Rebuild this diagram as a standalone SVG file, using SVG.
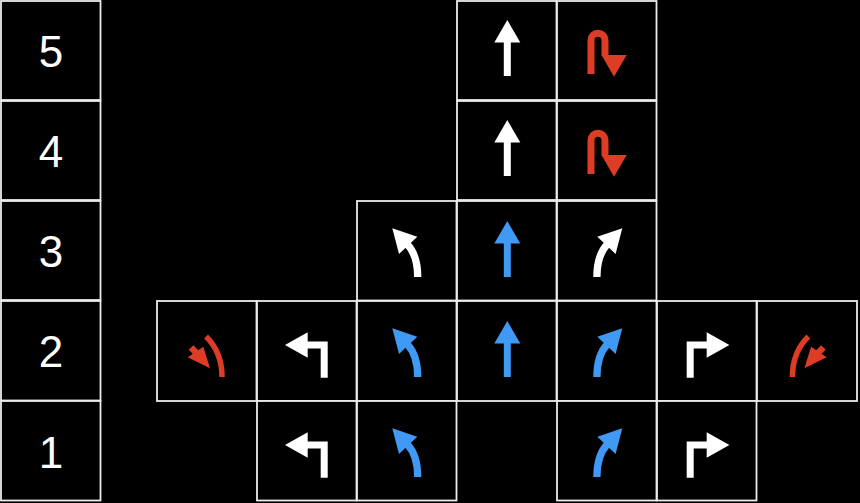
<svg xmlns="http://www.w3.org/2000/svg" width="860" height="503" viewBox="0 0 860 503">
<style>
.cell{fill:#000;stroke:#ececec;stroke-width:1.8}
.num{font-family:"Liberation Sans",Arial,sans-serif;font-size:44px;fill:#fff;text-anchor:middle}
.w{color:#fff}.b{color:#4099f3}.r{color:#dd3d25}
.hd{fill:currentColor;stroke:none}
.sh{stroke:currentColor;fill:none}
</style>
<defs>
<g id="straight"><polygon class="hd" points="50.3,20 63.3,42.5 53.8,42.5 53.8,76 46.8,76 46.8,42.5 37.3,42.5"/></g>
<g id="leftturn"><polygon class="hd" points="28,44 50.7,31.3 50.7,56.7"/><path class="sh" d="M50 44 H67.2 V76.7" stroke-width="7" stroke-linejoin="miter"/></g>
<g id="curveleft"><polygon class="hd" points="35.3,27.3 60.3,35.7 42,53"/><path class="sh" d="M60.7 76 C60.7 64 57.6 51.2 50.5 43.6" stroke-width="7.3"/></g>
<g id="merge"><path class="sh" d="M49 35.5 Q65 51 65 76" stroke-width="5.5"/><polygon class="hd" points="53,67.3 46.3,45.7 30.7,56.3"/><path class="sh" d="M34 46.5 L39.5 52" stroke-width="6.5"/></g>
<g id="uturn"><path class="sh" d="M34 73 V39.2 A7 7 0 0 1 48 39.2 V55" stroke-width="7"/><polygon class="hd" points="44.5,54 69.7,54 57,75.7"/></g>
</defs>
<rect width="860" height="503" fill="#000"/>
<g id="labels">
<g id="row5"><rect class="cell" x="1" y="1" width="99.5" height="99"/><text class="num" x="51" y="66.5">5</text></g>
<g id="row4"><rect class="cell" x="1" y="101" width="99.5" height="99"/><text class="num" x="51" y="166.5">4</text></g>
<g id="row3"><rect class="cell" x="1" y="201" width="99.5" height="99"/><text class="num" x="51" y="266.5">3</text></g>
<g id="row2"><rect class="cell" x="1" y="301" width="99.5" height="99.5"/><text class="num" x="51" y="367">2</text></g>
<g id="row1"><rect class="cell" x="1" y="401" width="99.5" height="99.5"/><text class="num" x="51" y="468">1</text></g>
</g>
<g id="lanes">
<g id="r5c457"><rect class="cell" x="457" y="1" width="99.5" height="99"/><use href="#straight" x="457" y="0" class="w"/></g>
<g id="r5c557"><rect class="cell" x="557" y="1" width="99.5" height="99"/><use href="#uturn" x="557" y="1" class="r"/></g>
<g id="r4c457"><rect class="cell" x="457" y="101" width="99.5" height="99"/><use href="#straight" x="457" y="100" class="w"/></g>
<g id="r4c557"><rect class="cell" x="557" y="101" width="99.5" height="99"/><use href="#uturn" x="557" y="101" class="r"/></g>
<g id="r3c357"><rect class="cell" x="357" y="201" width="99.5" height="99.5"/><use href="#curveleft" x="357" y="201" class="w"/></g>
<g id="r3c457"><rect class="cell" x="457" y="201" width="99.5" height="99.5"/><use href="#straight" x="457" y="201" class="b"/></g>
<g id="r3c557"><rect class="cell" x="557" y="201" width="99.5" height="99.5"/><use href="#curveleft" transform="translate(657.6 201) scale(-1 1)" class="w"/></g>
<g id="r2c157"><rect class="cell" x="157" y="301" width="99.5" height="100"/><use href="#merge" x="157" y="301" class="r"/></g>
<g id="r2c257"><rect class="cell" x="257" y="301" width="99.5" height="100"/><use href="#leftturn" x="257" y="301" class="w"/></g>
<g id="r2c357"><rect class="cell" x="357" y="301" width="99.5" height="100"/><use href="#curveleft" x="357" y="301" class="b"/></g>
<g id="r2c457"><rect class="cell" x="457" y="301" width="99.5" height="100"/><use href="#straight" x="457" y="301" class="b"/></g>
<g id="r2c557"><rect class="cell" x="557" y="301" width="99.5" height="100"/><use href="#curveleft" transform="translate(657.6 301) scale(-1 1)" class="b"/></g>
<g id="r2c657"><rect class="cell" x="657" y="301" width="99.5" height="100"/><use href="#leftturn" transform="translate(757.4 301) scale(-1 1)" class="w"/></g>
<g id="r2c757"><rect class="cell" x="757" y="301" width="100" height="100"/><use href="#merge" transform="translate(857.4 301) scale(-1 1)" class="r"/></g>
<g id="r1c257"><rect class="cell" x="257" y="401" width="99.5" height="99.5"/><use href="#leftturn" x="257" y="401" class="w"/></g>
<g id="r1c357"><rect class="cell" x="357" y="401" width="99.5" height="99.5"/><use href="#curveleft" x="357" y="401" class="b"/></g>
<g id="r1c557"><rect class="cell" x="557" y="401" width="99.5" height="99.5"/><use href="#curveleft" transform="translate(657.6 401) scale(-1 1)" class="b"/></g>
<g id="r1c657"><rect class="cell" x="657" y="401" width="99.5" height="99.5"/><use href="#leftturn" transform="translate(757.4 401) scale(-1 1)" class="w"/></g>
</g>
<g id="connectors"/>
</svg>
